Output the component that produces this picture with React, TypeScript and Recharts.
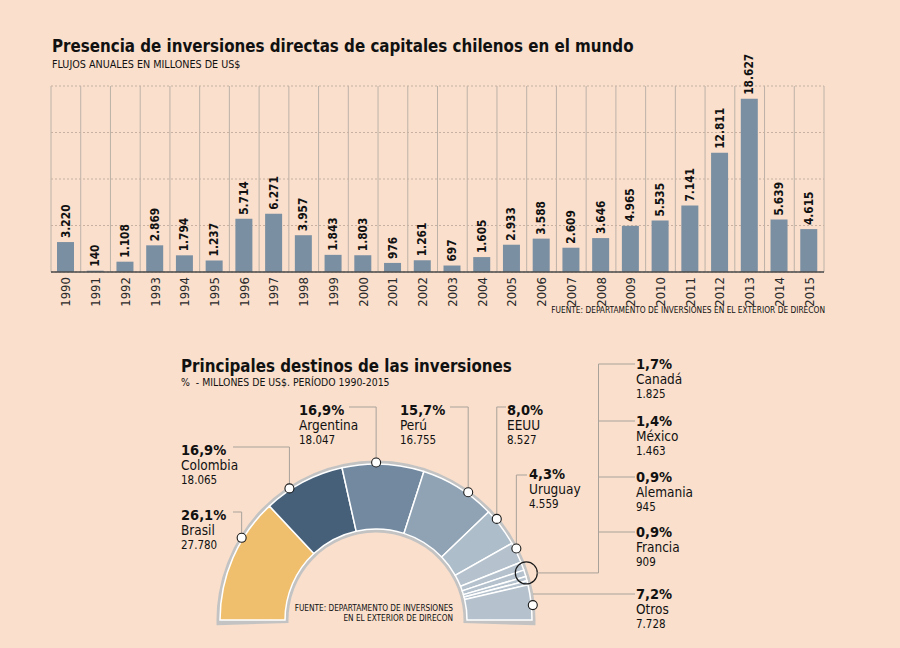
import React from 'react';
import {
  BarChart, Bar, XAxis, YAxis, CartesianGrid, LabelList, PieChart, Pie, Cell,
} from 'recharts';

// annual flows, millions of US$
const years = [
  '1990', '1991', '1992', '1993', '1994', '1995', '1996', '1997', '1998', '1999', '2000', '2001', '2002',
  '2003', '2004', '2005', '2006', '2007', '2008', '2009', '2010', '2011', '2012', '2013', '2014', '2015',
];
const flows = [
  3220, 140, 1108, 2869, 1794, 1237, 5714, 6271, 3957, 1843, 1803, 976, 1261,
  697, 1605, 2933, 3588, 2609, 3646, 4965, 5535, 7141, 12811, 18627, 5639, 4615,
];
const yTicks = [0, 5000, 10000, 15000, 20000];

// destinations 1990-2015
const countries = ['Brasil', 'Colombia', 'Argentina', 'Perú', 'EEUU', 'Uruguay', 'Canadá', 'México', 'Alemania', 'Francia', 'Otros'];
const amounts = [27780, 18065, 18047, 16755, 8527, 4559, 1825, 1463, 945, 909, 7728];
const shares = [26.1, 16.9, 16.9, 15.7, 8.0, 4.3, 1.7, 1.4, 0.9, 0.9, 7.2];

const sliceColors = ['#f0bf6e', '#46607a', '#7289a0', '#90a3b5', '#aebdca', '#b5c2ce', '#b5c2ce', '#b5c2ce', '#b5c2ce', '#b5c2ce', '#b5c2ce'];

// where each label sits (page coords) and how the leader line runs
const labelLayout: any[] = [
  { tx: 181, ty: 520, lineY: 512, lineX: 233, nudge: -8 },
  { tx: 181, ty: 455, lineY: 447, lineX: 233, nudge: 5.5 },
  { tx: 299, ty: 415, lineY: 407, lineX: 349, nudge: 2.6 },
  { tx: 400, ty: 415, lineY: 407, lineX: 450, nudge: -3.8 },
  { tx: 507, ty: 415, lineY: 407, lineX: 506, nudge: 3.3 },
  { tx: 529, ty: 479, lineY: 475, lineX: 527, nudge: 1.4 },
  { tx: 636, ty: 369, lineY: 364, group: true },
  { tx: 636, ty: 426, lineY: 421, group: true },
  { tx: 636, ty: 482, lineY: 477, group: true },
  { tx: 636, ty: 537, lineY: 532, group: true },
  { tx: 636, ty: 599, lineY: 594, direct: true, nudge: -1.1 },
];

const BG = '#f9dfcc';
const LEADER = '#a9a29b';
const COND = "'DejaVu Sans Condensed', 'DejaVu Sans', sans-serif";
const NARROW = "'Liberation Sans Narrow', 'DejaVu Sans Condensed', sans-serif";

const CX = 376;
const CY = 620;
const MARK_R = 157.5;

const fmt = (n: number) => String(n).replace(/\B(?=(\d{3})+(?!\d))/g, '.');
const fmtPct = (p: number) => p.toFixed(1).replace('.', ',') + '%';

const barData = years.map((year, i) => ({ year, flow: flows[i] }));
const pieData = countries.map((name, i) => ({ name, value: amounts[i], share: shares[i] }));

const total = amounts.reduce((a, b) => a + b, 0);
const cumBefore = amounts.map((_, i) => amounts.slice(0, i).reduce((a, b) => a + b, 0));
const angleAt = (v: number) => 180 - (v / total) * 180;
const midAngles = amounts.map((v, i) => angleAt(cumBefore[i] + v / 2));
const groupIdx = labelLayout.map((l, i) => (l.group ? i : -1)).filter((i) => i >= 0);
const groupMid = (angleAt(cumBefore[groupIdx[0]]) +
  angleAt(cumBefore[groupIdx[groupIdx.length - 1]] + amounts[groupIdx[groupIdx.length - 1]])) / 2;

const RAD = Math.PI / 180;
const polar = (cx: number, cy: number, r: number, a: number) => [cx + r * Math.cos(a * RAD), cy - r * Math.sin(a * RAD)];

if (typeof document !== 'undefined') {
  document.body.style.margin = '0';
  document.body.style.background = BG;
}

const YearTick = ({ x, y, payload }: any) => (
  <text
    x={x}
    y={y}
    transform={`rotate(-90 ${x} ${y})`}
    textAnchor="end"
    dominantBaseline="central"
    fontFamily={NARROW}
    fontSize={13}
    fill="#2a2a2a"
  >
    {payload.value}
  </text>
);

const ValueLabel = ({ x, y, width, value }: any) => {
  const cx = x + width / 2;
  const ty = y - 4;
  return (
    <text
      transform={`translate(${cx},${ty}) rotate(-90)`}
      textAnchor="start"
      dominantBaseline="central"
      fontFamily={COND}
      fontWeight="bold"
      fontSize={11.8}
      fill="#111"
    >
      {fmt(value)}
    </text>
  );
};

function LabelText({ L, i }: any) {
  return (
    <g fill="#111" fontFamily={COND}>
      <text x={L.tx} y={L.ty} fontWeight="bold" fontSize={14.5}>{fmtPct(shares[i])}</text>
      <text x={L.tx} y={L.ty + 15} fontSize={13.5}>{countries[i]}</text>
      <text x={L.tx} y={L.ty + 29} fontSize={11.5}>{fmt(amounts[i])}</text>
    </g>
  );
}

const Marker = ({ x, y }: any) => <circle cx={x} cy={y} r={4.5} fill="#fff" stroke="#1a1a1a" strokeWidth={1.1} />;

const renderPieLabel = (props: any) => {
  const { index } = props;
  const cx = props.cx ?? CX;
  const cy = props.cy ?? CY;
  const L = labelLayout[index];
  if (L.group) {
    const first = index === groupIdx[0];
    const [gx, gy] = polar(cx, cy, MARK_R, groupMid);
    const trunkX = 598.5;
    const topY = Math.min(...groupIdx.map((g) => labelLayout[g].lineY));
    return (
      <g>
        {first && (
          <g>
            <circle cx={gx} cy={gy} r={11} fill="none" stroke="#1a1a1a" strokeWidth={1.2} />
            <path d={`M${gx + 11},${gy} H${trunkX} V${topY}`} stroke={LEADER} fill="none" />
          </g>
        )}
        <path d={`M${trunkX},${L.lineY} H${L.tx - 1}`} stroke={LEADER} fill="none" />
        <LabelText L={L} i={index} />
      </g>
    );
  }
  const [mx, my] = polar(cx, cy, MARK_R, midAngles[index] + L.nudge);
  if (L.direct) {
    const dy = cy - L.lineY;
    const sx = cx + Math.sqrt(159 * 159 - dy * dy);
    return (
      <g>
        <path d={`M${sx},${L.lineY} H${L.tx - 1}`} stroke={LEADER} fill="none" />
        <Marker x={mx} y={my} />
        <LabelText L={L} i={index} />
      </g>
    );
  }
  return (
    <g>
      <path d={`M${mx},${my} V${L.lineY} H${L.lineX}`} stroke={LEADER} fill="none" />
      <Marker x={mx} y={my} />
      <LabelText L={L} i={index} />
    </g>
  );
};

export default function App() {
  return (
    <div style={{ position: 'relative', width: 900, height: 648, background: BG, overflow: 'hidden' }}>
      <div style={{ position: 'absolute', left: 0, top: 0 }}>
        <PieChart width={900} height={648} margin={{ top: 0, right: 0, bottom: 0, left: 0 }}>
          <Pie
            data={[{ name: 'ring', value: 1 }]}
            dataKey="value"
            cx={CX}
            cy={CY}
            startAngle={181.9}
            endAngle={-1.9}
            innerRadius={87.5}
            outerRadius={159.5}
            fill="#c3c3c3"
            stroke="none"
            isAnimationActive={false}
          />
          <Pie
            data={pieData}
            dataKey="value"
            nameKey="name"
            cx={CX}
            cy={CY}
            startAngle={180}
            endAngle={0}
            innerRadius={91}
            outerRadius={156}
            stroke="#fff"
            strokeWidth={1.5}
            label={renderPieLabel}
            labelLine={false}
            isAnimationActive={false}
          >
            {pieData.map((d, i) => (
              <Cell key={d.name} fill={sliceColors[i]} />
            ))}
          </Pie>
        </PieChart>
      </div>

      <div style={{ position: 'absolute', left: 0, top: 0 }}>
        <BarChart width={900} height={330} data={barData} margin={{ top: 86, right: 76, left: 51, bottom: 18 }}>
          <CartesianGrid
            horizontal={false}
            stroke="#bdb2a8"
            verticalCoordinatesGenerator={({ offset }: any) =>
              years.concat(['']).map((_, i) => offset.left + (i * offset.width) / years.length)
            }
          />
          <CartesianGrid vertical={false} stroke="#c6b1a2" strokeDasharray="2 2" />
          <XAxis
            dataKey="year"
            interval={0}
            tickLine={false}
            tickSize={0}
            tickMargin={5}
            height={40}
            axisLine={{ stroke: '#4a4a4a', strokeWidth: 1.5 }}
            tick={<YearTick />}
          />
          <YAxis hide domain={[0, 20000]} ticks={yTicks} />
          <Bar dataKey="flow" fill="#7b8fa2" barSize={17} isAnimationActive={false}>
            <LabelList dataKey="flow" content={<ValueLabel />} />
          </Bar>
        </BarChart>
      </div>

      <svg width={900} height={648} style={{ position: 'absolute', left: 0, top: 0, pointerEvents: 'none' }}>
        <g fill="#111">
          <text x={52} y={52} fontFamily={COND} fontWeight="bold" fontSize={16.8}>
            Presencia de inversiones directas de capitales chilenos en el mundo
          </text>
          <text x={52} y={68} fontFamily={COND} fontSize={10.7}>FLUJOS ANUALES EN MILLONES DE US$</text>
          <text x={825} y={313} textAnchor="end" fontFamily={NARROW} fontSize={8.3}>
            FUENTE: DEPARTAMENTO DE INVERSIONES EN EL EXTERIOR DE DIRECON
          </text>
          <text x={181} y={372} fontFamily={COND} fontWeight="bold" fontSize={16.8}>
            Principales destinos de las inversiones
          </text>
          <text x={181} y={386} fontFamily={COND} fontSize={10.4} style={{ whiteSpace: 'pre' }}>
            {'%  - MILLONES DE US$. PERÍODO 1990-2015'}
          </text>
          <text x={453} y={611} textAnchor="end" fontFamily={NARROW} fontSize={8.2}>
            FUENTE: DEPARTAMENTO DE INVERSIONES
          </text>
          <text x={453} y={621} textAnchor="end" fontFamily={NARROW} fontSize={8.2}>
            EN EL EXTERIOR DE DIRECON
          </text>
        </g>
      </svg>
    </div>
  );
}
